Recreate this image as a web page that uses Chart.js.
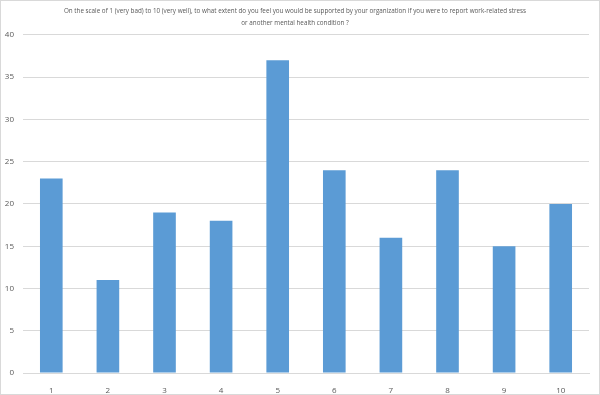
<!DOCTYPE html>
<html>
<head>
<meta charset="utf-8">
<script src="https://cdn.jsdelivr.net/npm/chart.js@4/dist/chart.umd.min.js"></script>
<style>
  html, body { margin: 0; padding: 0; background: #fff; }
  #wrap { width: 600px; height: 395px; box-sizing: border-box; border: 1px solid #d9d9d9; }
</style>
</head>
<body>
<div id="wrap"><canvas id="chart" width="598" height="393"></canvas></div>
<script>
// rating scale answers
const ratings = ['1','2','3','4','5','6','7','8','9','10'];
const counts = [23, 11, 19, 18, 37, 24, 16, 24, 15, 20];
const titleLines = [
  'On the scale of 1 (very bad) to 10 (very well), to what extent do you feel you would be supported by your organization if you were to report work-related stress',
  'or another mental health condition ?'
];

const txt = '#595959';
const fontFam = "'Open Sans', 'Liberation Sans', sans-serif";

new Chart(document.getElementById('chart'), {
  type: 'bar',
  data: {
    labels: ratings,
    datasets: [{ data: counts, backgroundColor: '#5b9bd5', barPercentage: 0.4, categoryPercentage: 1 }]
  },
  options: {
    responsive: false,
    animation: false,
    layout: { padding: { left: 0, right: 10, top: 0, bottom: 1 } },
    plugins: {
      legend: { display: false },
      tooltip: { enabled: false },
      title: {
        display: true,
        text: titleLines,
        color: txt,
        font: { family: fontFam, size: 6.3, weight: 'normal', lineHeight: 1.9 },
        padding: { top: 4, bottom: 6 }
      }
    },
    scales: {
      x: {
        grid: { display: false },
        border: { color: '#d9d9d9' },
        ticks: { color: txt, font: { family: fontFam, size: 8 }, padding: 5 },
        afterFit: s => { s.height = 20; }
      },
      y: {
        min: 0, max: 40,
        grid: { color: '#d9d9d9', drawTicks: false },
        border: { display: false },
        ticks: { stepSize: 5, color: txt, font: { family: fontFam, size: 8 }, padding: 9 },
        afterFit: s => { s.width = 22; }
      }
    }
  }
});
</script>
</body>
</html>
